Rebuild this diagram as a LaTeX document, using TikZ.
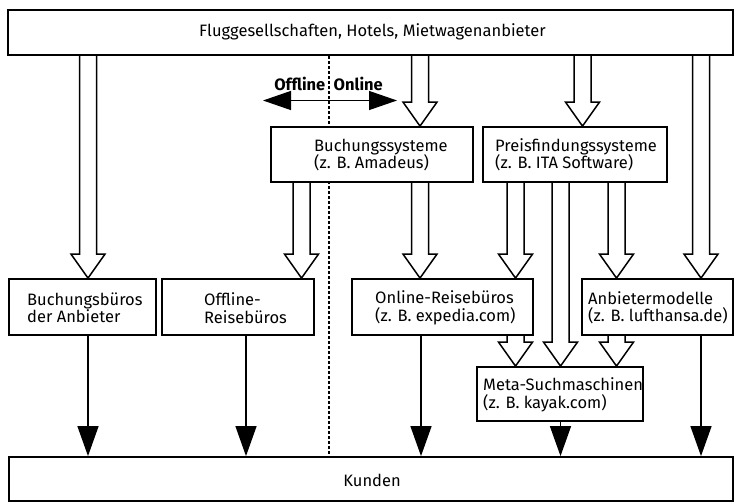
\documentclass[tikz,border=0pt]{standalone}
\usepackage{fontspec}
\setmainfont{Fira Sans}
\usetikzlibrary{arrows.meta,calc}
\pgfdeclarelayer{bg}
\pgfsetlayers{bg,main}
\begin{document}
\begin{tikzpicture}[x=1pt,y=-1pt,
  font=\fontsize{16.5}{17.5}\selectfont,
  box/.style={draw, line width=1.8pt, fill=white, inner sep=0pt},
  txt/.style={anchor=west, align=left, inner sep=0pt},
  blk/.style={draw, line width=1.5pt, fill=white, line join=miter,
    to path={let \p1=(\tikztostart), \p2=(\tikztotarget) in
      (\x1-8.5pt,\y1) -- (\x1-8.5pt,\y2+24pt) -- (\x1-17pt,\y2+24pt) -- (\x2,\y2)
      -- (\x1+17pt,\y2+24pt) -- (\x1+8.5pt,\y2+24pt) -- (\x1+8.5pt,\y1)}},
  thin/.style={draw, line width=1.3pt, -{Triangle[length=30pt,width=21pt]}},
]
\useasboundingbox (0,0) rectangle (735,503);

% boxes
\node[box, minimum width=725pt, minimum height=45pt] (top) at (370.5,32.5) {};
\node (toptxt) at (372.5,32) {Fluggesellschaften, Hotels, Mietwagenanbieter};
\node[box, minimum width=724pt, minimum height=44pt] (kunden) at (371,479) {};
\node (kundentxt) at (372,480) {Kunden};

\node[box, minimum width=202pt, minimum height=55pt] (buch) at (372,154.5) {};
\node[txt] (bucht) at (314,155) {Buchungssysteme\\(z. B. Amadeus)};
\node[box, minimum width=184pt, minimum height=55pt] (preis) at (575,154.5) {};
\node[txt] (preist) at (495,155) {Preisfindungssysteme\\(z. B. ITA Software)};

\node[box, minimum width=147pt, minimum height=56pt] (bb) at (82.5,307) {};
\node[txt] (bbt) at (27,308) {Buchungsbüros\\der Anbieter};
\node[box, minimum width=152pt, minimum height=56pt] (off) at (238,307) {};
\node[txt] (offt) at (204,308) {Offline-\\Reisebüros};
\node[box, minimum width=181pt, minimum height=56pt] (onl) at (442.5,307) {};
\node[txt] (onlt) at (375,308) {Online-Reisebüros\\(z. B. expedia.com)};
\node[box, minimum width=151pt, minimum height=56pt] (anb) at (657.5,307) {};
\node[txt] (anbt) at (588,308) {Anbietermodelle\\(z. B. lufthansa.de)};

\node[box, minimum width=166pt, minimum height=54pt] (meta) at (560,394) {};
\node[txt] (metat) at (483,395) {Meta-Suchmaschinen\\(z. B. kayak.com)};

% offline / online
\node[anchor=east, inner sep=0pt, font=\fontsize{16.5}{17.5}\selectfont\bfseries] (offl) at (325.5,84) {Offline};
\node[anchor=west, inner sep=0pt, font=\fontsize{16.5}{17.5}\selectfont\bfseries] (onll) at (333.5,84) {Online};
\coordinate (oa) at (263,100.5);
\coordinate (ob) at (397,100.5);
\draw[line width=1.3pt, {Triangle[length=28pt,width=19pt]}-{Triangle[length=28pt,width=19pt]}] (oa) -- (ob);

\begin{pgfonlayer}{bg}
  \draw[line width=1.3pt, dash pattern=on 3pt off 2pt] (329,0 |- top.south) -- (329,0 |- kunden.north);
  % hollow block arrows
  \path[blk] (88,0 |- top.south) to (88,0 |- bb.north);
  \path[blk] (420,0 |- top.south) to (420,0 |- buch.north);
  \path[blk] (582.5,0 |- top.south) to (582.5,0 |- preis.north);
  \path[blk] (701,0 |- top.south) to (701,0 |- anb.north);
  \path[blk] (301.5,0 |- buch.south) to (301.5,0 |- off.north);
  \path[blk] (420,0 |- buch.south) to (420,0 |- onl.north);
  \path[blk] (515.5,0 |- preis.south) to (515.5,0 |- onl.north);
  \path[blk] (560.5,0 |- preis.south) to (560.5,0 |- meta.north);
  \path[blk] (616.5,0 |- preis.south) to (616.5,0 |- anb.north);
  \path[blk] (515.5,0 |- onl.south) to (515.5,0 |- meta.north);
  \path[blk] (616.5,0 |- anb.south) to (616.5,0 |- meta.north);
  % thin arrows
  \path[thin] (88,0 |- bb.south) -- (88,0 |- kunden.north);
  \path[thin] (246,0 |- off.south) -- (246,0 |- kunden.north);
  \path[thin] (421,0 |- onl.south) -- (421,0 |- kunden.north);
  \path[thin] (560.5,0 |- meta.south) -- (560.5,0 |- kunden.north);
  \path[thin] (701,0 |- anb.south) -- (701,0 |- kunden.north);
\end{pgfonlayer}
\end{tikzpicture}
\end{document}
